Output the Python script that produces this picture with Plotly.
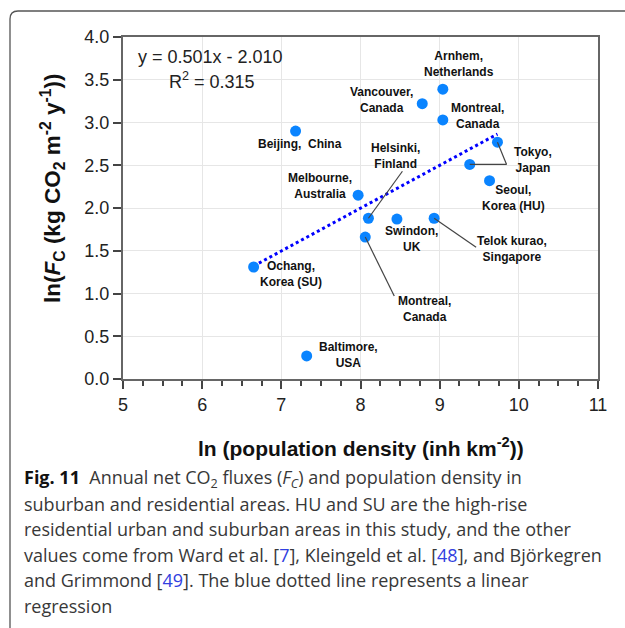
import plotly.graph_objects as go

# ---------------- data ----------------
sites = ["Beijing, China", "Melbourne, Australia", "Arnhem, Netherlands",
         "Vancouver, Canada", "Montreal, Canada", "Tokyo, Japan", "Tokyo, Japan",
         "Seoul, Korea (HU)", "Helsinki, Finland", "Swindon, UK",
         "Telok kurao, Singapore", "Montreal, Canada", "Ochang, Korea (SU)",
         "Baltimore, USA"]
ln_pop = [7.18, 7.97, 9.04, 8.78, 9.04, 9.73, 9.38, 9.63, 8.10, 8.46, 8.93, 8.06, 6.65, 7.32]
ln_fc = [2.90, 2.15, 3.39, 3.22, 3.03, 2.77, 2.51, 2.32, 1.88, 1.87, 1.88, 1.66, 1.31, 0.27]
slope, intercept, r2 = 0.501, -2.010, 0.315

labels = ["Beijing,  China", "Melbourne,<br>Australia", "Arnhem,<br>Netherlands",
          "Vancouver,<br>Canada", "Montreal,<br>Canada", "Tokyo,<br>Japan", "",
          "Seoul,<br>Korea (HU)", "Helsinki,<br>Finland", "Swindon,<br>UK",
          "Telok kurao,<br>Singapore", "Montreal,<br>Canada", "Ochang,<br>Korea (SU)",
          "Baltimore,<br>USA"]
# label centre offsets from the point (px, right / down)
label_off = [(4, 13), (-38, -9), (16, -25), (-41, -4), (35, -4), (36, 18), (0, 0),
             (24, 17), (27, -62), (15, 20), (78, 31), (59, 72), (37, 7), (42, -1)]
# leader line end offsets (px, right / down); None = no leader
leader_off = [None, None, None, None, None, (9, 22), (37, 0), None, (34, -47),
              None, (42, 29), (29, 59), None, None]

x_ticks = [5, 6, 7, 8, 9, 10, 11]
y_ticks = [0.0, 0.5, 1.0, 1.5, 2.0, 2.5, 3.0, 3.5, 4.0]

caption = [
    "<b style='color:#111'>Fig. 11</b>  Annual net CO<sub>2</sub> fluxes (<i>F<sub>C</sub></i>) and population density in",
    "suburban and residential areas. HU and SU are the high-rise",
    "residential urban and suburban areas in this study, and the other",
    "values come from Ward et al. [<span style='color:#3140e0'>7</span>], Kleingeld et al. [<span style='color:#3140e0'>48</span>], and Björkegren",
    "and Grimmond [<span style='color:#3140e0'>49</span>]. The blue dotted line represents a linear",
    "regression",
]

# ---------------- geometry ----------------
W, H = 625, 628
PL, PR, PT, PB = 123, 598, 37, 379


def px(xp):
    return (xp - PL) / (PR - PL)


def py(yp):
    return (PB - yp) / (PB - PT)


FONT = "Liberation Sans, Arial, sans-serif"

fig = go.Figure()

xr = [min(ln_pop), max(ln_pop)]
fig.add_trace(go.Scatter(x=xr, y=[slope * v + intercept for v in xr], mode="lines",
                         line=dict(color="#0000ff", width=3, dash="dot"),
                         hoverinfo="skip", showlegend=False))
fig.add_trace(go.Scatter(x=ln_pop, y=ln_fc, mode="markers", text=sites,
                         marker=dict(size=11, color="#0a84ff"),
                         showlegend=False))

ann = []
shapes = []
for xv, yv, lab, (dx, dy), lo in zip(ln_pop, ln_fc, labels, label_off, leader_off):
    if lo is not None:
        shapes.append(dict(type="line", xref="x", yref="y",
                           xsizemode="pixel", ysizemode="pixel",
                           xanchor=xv, yanchor=yv,
                           x0=0, y0=0, x1=lo[0], y1=-lo[1],
                           line=dict(color="#444", width=1.2), layer="above"))
    if lab:
        ann.append(dict(x=xv, y=yv, xref="x", yref="y", text="<b>" + lab + "</b>",
                        showarrow=False, xshift=dx, yshift=-dy, xanchor="center",
                        yanchor="middle", align="center",
                        font=dict(family=FONT, size=12, color="#111")))

ann.append(dict(x=px(210.5), y=py(57), xref="paper", yref="paper",
                text=f"y = {slope:.3f}x - {abs(intercept):.3f}", showarrow=False,
                xanchor="center", yanchor="middle",
                font=dict(family=FONT, size=18, color="#222")))
ann.append(dict(x=px(212), y=py(80), xref="paper", yref="paper",
                text=f"R<sup>2</sup> = {r2:.3f}", showarrow=False,
                xanchor="center", yanchor="middle",
                font=dict(family=FONT, size=18, color="#222")))

ann.append(dict(x=px(361), y=py(447), xref="paper", yref="paper",
                text="<b>ln (population density (inh km<sup>-2</sup>))</b>",
                showarrow=False, xanchor="center", yanchor="middle",
                font=dict(family=FONT, size=21, color="#111")))
ann.append(dict(x=px(52), y=py(189), xref="paper", yref="paper",
                text="<b>ln(<i>F</i><sub>C</sub> (kg CO<sub>2</sub> m<sup>-2</sup> y<sup>-1</sup>))</b>",
                showarrow=False, xanchor="center", yanchor="middle", textangle=-90,
                font=dict(family=FONT, size=22.5, color="#111")))

line_y = [478, 503.5, 529, 554.5, 580, 605.5]
for txt, yl in zip(caption, line_y):
    ann.append(dict(x=px(22), y=py(yl), xref="paper", yref="paper", text=txt,
                    showarrow=False, xanchor="left", yanchor="middle", align="left",
                    font=dict(family="Open Sans, Noto Sans, sans-serif", size=18,
                              color="#383838")))

frame_path = (f"M {px(10)},{py(628)} L {px(10)},{py(19)} "
              f"Q {px(10)},{py(11)} {px(18)},{py(11)} L {px(625)},{py(11)}")
shapes.append(dict(type="path", xref="paper", yref="paper", path=frame_path,
                   line=dict(color="#555", width=1.3)))

fig.update_layout(
    width=W, height=H,
    margin=dict(l=PL, r=W - PR, t=PT, b=H - PB, pad=0),
    paper_bgcolor="white", plot_bgcolor="white",
    annotations=ann,
    shapes=shapes,
    xaxis=dict(range=[5, 11], tickvals=x_ticks, ticks="outside", ticklen=8,
               tickwidth=2, tickcolor="#444",
               minor=dict(dtick=0.25, tick0=5, ticks="outside", ticklen=5,
                          tickwidth=1.5, tickcolor="#444", showgrid=False),
               showgrid=True, gridcolor="#e6e6e6", gridwidth=1,
               showline=True, linecolor="#666", linewidth=2, mirror=True,
               zeroline=False, tickfont=dict(family=FONT, size=18, color="#222")),
    yaxis=dict(range=[0, 4], tickvals=y_ticks, tickformat=".1f", ticks="outside",
               ticklen=8, tickwidth=1.5, tickcolor="#444",
               showgrid=True, gridcolor="#e6e6e6", gridwidth=1,
               showline=True, linecolor="#666", linewidth=2, mirror=True,
               zeroline=False, tickfont=dict(family=FONT, size=18, color="#222")),
)

fig.write_html("out.html")
